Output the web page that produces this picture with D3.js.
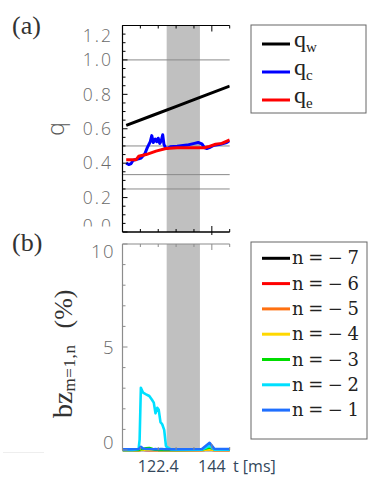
<!DOCTYPE html>
<html>
<head>
<meta charset="utf-8">
<script src="https://cdn.jsdelivr.net/npm/d3@7"></script>
<style>
  html, body { margin: 0; padding: 0; background: #fff; }
  svg { display: block; }
</style>
</head>
<body>
<svg id="chart" width="368" height="477"></svg>
<script>
// ---- data ----
const timeDomain = [108, 151.2];
const timeTicks = [108, 115.2, 122.4, 129.6, 136.8, 144, 151.2];
const timeTickLabels = ["122.4", "144"];
const shadedWindow = [125.8, 139.2];

const qRefLevels = [1.0, 0.5, 1 / 3, 0.25];
const qTickLabels = ["1.2", "1.0", "0.8", "0.6", "0.4", "0.2", "0.0"];
const qTickValues = [1.2, 1.0, 0.8, 0.6, 0.4, 0.2, 0.0];

const qwTime = [109.5, 120, 130, 140, 151.2];
const qwValue = [0.62, 0.677, 0.732, 0.787, 0.848];

const qcTime = [109.5, 110.5, 111.5, 112.2, 113, 114.5, 115.5, 117, 118, 119.2, 119.8, 120.4, 121.2, 121.8, 122.4, 123.0, 123.6, 124.2, 124.7, 125.3, 126, 127.3, 130, 134, 137, 138.5, 140, 141, 142, 143, 144.5, 147.4, 150, 151.2];
const qcValue = [0.40, 0.392, 0.398, 0.415, 0.42, 0.425, 0.43, 0.455, 0.49, 0.525, 0.56, 0.52, 0.54, 0.525, 0.545, 0.515, 0.53, 0.565, 0.51, 0.49, 0.485, 0.495, 0.498, 0.505, 0.515, 0.52, 0.512, 0.49, 0.485, 0.49, 0.502, 0.51, 0.52, 0.53];

const qeTime = [109.5, 113.5, 114.5, 117.5, 121.5, 125.5, 130, 135, 139, 141, 142.5, 145.5, 148, 151.2];
const qeValue = [0.42, 0.42, 0.44, 0.45, 0.47, 0.485, 0.49, 0.49, 0.49, 0.49, 0.495, 0.51, 0.515, 0.535];

const bzTicks = [0, 5, 10];
const bzTime = [108, 112, 114.5, 114.9, 115.4, 116.3, 117.5, 118.8, 119.8, 120.6, 121.3, 122.0, 122.6, 123.3, 124.0, 124.8, 125.5, 126.5, 127.5, 130, 140, 143.1, 145, 151.2];
const bzN7 = [0, 0, 0, 0, 0.01, 0, 0, 0, 0, 0, 0, 0, 0, 0, 0, 0, 0, 0, 0, 0, 0, 0.02, 0, 0];
const bzN6 = [0, 0, 0, 0, 0.01, 0.01, 0, 0, 0, 0, 0, 0, 0, 0, 0, 0, 0, 0, 0, 0, 0, 0.03, 0, 0];
const bzN5 = [0, 0, 0, 0, 0.02, 0.01, 0.01, 0, 0, 0, 0, 0, 0, 0, 0, 0, 0, 0, 0, 0, 0, 0.03, 0, 0];
const bzN4 = [0, 0, 0, 0, 0.02, 0.02, 0.01, 0.01, 0, 0, 0, 0, 0, 0, 0, 0, 0, 0, 0, 0, 0, 0.04, 0, 0];
const bzN3 = [0, 0, 0, 0.02, 0.05, 0.05, 0.08, 0.1, 0.06, 0.03, 0.02, 0.02, 0, 0, 0, 0, 0, 0, 0, 0, 0.02, 0.12, 0.04, 0.02];
const bzN2 = [0, 0, 0.05, 0.5, 3.02, 2.78, 2.7, 2.62, 2.45, 2.3, 1.78, 2.05, 1.95, 1.35, 1.25, 0.98, 0.2, 0.1, 0.03, 0.02, 0.02, 0.2, 0.02, 0.02];
const bzN1 = [0.03, 0.04, 0.05, 0.08, 0.15, 0.07, 0.05, 0.05, 0.04, 0.04, 0.05, 0.04, 0.04, 0.05, 0.05, 0.04, 0.05, 0.04, 0.04, 0.04, 0.05, 0.35, 0.06, 0.05];

const qSeriesNames = ["w", "c", "e"];
const nSeriesNames = ["n=\u22127", "n=\u22126", "n=\u22125", "n=\u22124", "n=\u22123", "n=\u22122", "n=\u22121"];

// ---- layout ----
const svg = d3.select("#chart");
const serif = "'Liberation Serif', 'DejaVu Serif', serif";
const wideSerif = "'DejaVu Serif', 'Liberation Serif', serif";
const tickFont = "'Open Sans', 'Lato', sans-serif";

const x = d3.scaleLinear().domain(timeDomain).range([122.5, 229.7]);
const yA = d3.scaleLinear().domain([0, 1.2]).range([232, 25.5]);
const yB = d3.scaleLinear().domain([0, 10]).range([450, 244]);

const left = x.range()[0], right = x.range()[1];

svg.append("defs").call(d => {
  d.append("clipPath").attr("id", "clipA").append("rect")
    .attr("x", left).attr("y", yA(1.2)).attr("width", right - left).attr("height", yA(0) - yA(1.2));
  d.append("clipPath").attr("id", "clipB").append("rect")
    .attr("x", left).attr("y", yB(10)).attr("width", right - left + 1).attr("height", yB(0) - yB(10) + 2);
  d.append("clipPath").attr("id", "clipLabelsA").append("rect")
    .attr("x", 0).attr("y", 0).attr("width", 122).attr("height", 226.5);
});

// ---- shaded window ----
[[yA(1.2), yA(0)], [yB(10), yB(0)]].forEach(([y0, y1]) => {
  svg.append("rect")
    .attr("x", x(shadedWindow[0])).attr("width", x(shadedWindow[1]) - x(shadedWindow[0]))
    .attr("y", y0).attr("height", y1 - y0)
    .attr("fill", "#c0c0c0");
});

// ---- panel (a) ----
const gA = svg.append("g");
gA.selectAll("line.ref").data(qRefLevels).join("line")
  .attr("x1", left).attr("x2", right)
  .attr("y1", d => yA(d)).attr("y2", d => yA(d))
  .attr("stroke", "#8a8a8a").attr("stroke-width", 1);

const lineA = d3.line().x(d => x(d[0])).y(d => yA(d[1]));
const qSeries = [
  { t: qwTime, v: qwValue, color: "#000000" },
  { t: qcTime, v: qcValue, color: "#0000ff" },
  { t: qeTime, v: qeValue, color: "#ff0000" }
];
qSeries.forEach(s => {
  gA.append("path")
    .attr("clip-path", "url(#clipA)")
    .attr("d", lineA(s.t.map((t, k) => [t, s.v[k]])))
    .attr("fill", "none").attr("stroke", s.color)
    .attr("stroke-width", 3).attr("stroke-linejoin", "round");
});

// axes of panel (a): left, top, bottom
const axisA = svg.append("g").attr("stroke", "#000");
axisA.append("line").attr("x1", left).attr("x2", left).attr("y1", yA(1.2)).attr("y2", yA(0)).attr("stroke-width", 1.2);
axisA.append("line").attr("x1", left).attr("x2", right).attr("y1", yA(1.2)).attr("y2", yA(1.2)).attr("stroke-width", 1.2);
axisA.append("line").attr("x1", left).attr("x2", right).attr("y1", yA(0)).attr("y2", yA(0)).attr("stroke-width", 1.5);

const qMinor = d3.range(0, 1.2001, 0.05);
axisA.selectAll("line.qt").data(qMinor).join("line")
  .attr("x1", left).attr("x2", d => left + (Math.abs(d / 0.2 - Math.round(d / 0.2)) < 1e-6 ? 5 : 3))
  .attr("y1", d => yA(d)).attr("y2", d => yA(d)).attr("stroke-width", 1);

timeTicks.forEach(t => {
  const major = t === 144;
  const len = major ? 6 : 3;
  axisA.append("line").attr("x1", x(t)).attr("x2", x(t)).attr("y1", yA(1.2)).attr("y2", yA(1.2) + len).attr("stroke-width", 1);
  axisA.append("line").attr("x1", x(t)).attr("x2", x(t))
    .attr("y1", yA(0) - len).attr("y2", yA(0) + (major ? 3 : 0)).attr("stroke-width", 1);
});

// y tick labels (a)
const labA = svg.append("g").attr("clip-path", "url(#clipLabelsA)");
qTickValues.forEach((v, i) => {
  let cy = yA(v);
  if (v === 1.2) cy = 35.8;
  if (v === 0.0) cy = 225.5;
  labA.append("text")
    .attr("x", 113).attr("y", cy).attr("dy", "0.36em")
    .attr("text-anchor", "end")
    .attr("font-family", tickFont).attr("font-weight", 300)
    .attr("font-size", 17.5).attr("letter-spacing", 2)
    .attr("fill", "#6a6a6a")
    .text(qTickLabels[i]);
});

svg.append("text")
  .attr("transform", "translate(64,129) rotate(-90)")
  .attr("text-anchor", "middle")
  .attr("font-family", tickFont).attr("font-weight", 300)
  .attr("font-size", 23).attr("fill", "#555")
  .text("q");

svg.append("text").attr("x", 12).attr("y", 34)
  .attr("font-family", serif).attr("font-size", 26).attr("fill", "#333")
  .text("(a)");

// legend (a)
const legA = svg.append("g");
legA.append("rect").attr("x", 251).attr("y", 25).attr("width", 115).attr("height", 88)
  .attr("fill", "#fff").attr("stroke", "#666").attr("stroke-width", 1);
qSeries.forEach((s, i) => {
  const ly = 44 + i * 28;
  legA.append("line").attr("x1", 262).attr("x2", 290).attr("y1", ly).attr("y2", ly)
    .attr("stroke", s.color).attr("stroke-width", 3);
  const txt = legA.append("text").attr("x", 294).attr("y", ly + 3)
    .attr("font-family", serif).attr("font-size", 24).attr("fill", "#222");
  txt.append("tspan").text("q");
  txt.append("tspan").attr("dy", 5).attr("font-size", 15).text(qSeriesNames[i]);
});

// ---- panel (b) ----
const lineB = d3.line().x(d => x(d[0])).y(d => yB(d[1]));
const nSeries = [
  { v: bzN7, color: "#000000" },
  { v: bzN6, color: "#ff0000" },
  { v: bzN5, color: "#ff7010" },
  { v: bzN4, color: "#ffd800" },
  { v: bzN3, color: "#00dd00" },
  { v: bzN2, color: "#00e0ff" },
  { v: bzN1, color: "#1f6fff" }
];
const gB = svg.append("g").attr("clip-path", "url(#clipB)");
nSeries.forEach(s => {
  gB.append("path")
    .attr("d", lineB(bzTime.map((t, k) => [t, s.v[k]])))
    .attr("fill", "none").attr("stroke", s.color)
    .attr("stroke-width", 2.6).attr("stroke-linejoin", "round");
});

const axisB = svg.append("g").attr("stroke", "#8c8c8c");
axisB.append("line").attr("x1", left).attr("x2", left).attr("y1", yB(10)).attr("y2", yB(0)).attr("stroke-width", 1.2);
axisB.append("line").attr("x1", left).attr("x2", right).attr("y1", yB(10)).attr("y2", yB(10)).attr("stroke-width", 1.2);
axisB.selectAll("line.bt").data(d3.range(0, 10.01, 1)).join("line")
  .attr("x1", left).attr("x2", d => left + (d % 5 === 0 ? 5 : 3))
  .attr("y1", d => yB(d)).attr("y2", d => yB(d)).attr("stroke-width", 1);
timeTicks.forEach(t => {
  const len = t === 144 ? 6 : 3;
  axisB.append("line").attr("x1", x(t)).attr("x2", x(t)).attr("y1", yB(10)).attr("y2", yB(10) + len).attr("stroke-width", 1);
  axisB.append("line").attr("x1", x(t)).attr("x2", x(t)).attr("y1", yB(0)).attr("y2", yB(0) - len).attr("stroke-width", 1);
});

bzTicks.forEach(v => {
  let cy = yB(v);
  if (v === 10) cy = 251.7;
  if (v === 0) cy = 442.7;
  svg.append("text")
    .attr("x", 115).attr("y", cy).attr("dy", "0.36em")
    .attr("text-anchor", "end")
    .attr("font-family", tickFont).attr("font-weight", 300)
    .attr("font-size", 18.5).attr("letter-spacing", 1.5)
    .attr("fill", "#6a6a6a")
    .text(String(v));
});

// faint rule under the left margin
svg.append("line").attr("x1", 3).attr("x2", 44).attr("y1", 452.5).attr("y2", 452.5)
  .attr("stroke", "#eeeeee").attr("stroke-width", 1);

const yTitle = svg.append("text")
  .attr("transform", "translate(72,418) rotate(-90)")
  .attr("font-family", serif).attr("font-size", 28).attr("fill", "#333");
yTitle.append("tspan").text("bz");
yTitle.append("tspan").attr("dy", 3).attr("font-size", 17).attr("letter-spacing", 0.6).text("m=1,n");
yTitle.append("tspan").attr("dy", -3).attr("dx", 16).attr("font-size", 26).attr("letter-spacing", 0).text("(%)");

svg.append("text").attr("x", 12).attr("y", 251)
  .attr("font-family", serif).attr("font-size", 26).attr("fill", "#333")
  .text("(b)");

// x tick labels + axis title
const labelColor = "#33475b";
timeTickLabels.forEach(lbl => {
  svg.append("text").attr("x", x(+lbl)).attr("y", 472)
    .attr("text-anchor", "middle")
    .attr("font-family", tickFont).attr("font-size", 16).attr("fill", labelColor)
    .text(lbl);
});
svg.append("text").attr("x", 233).attr("y", 472)
  .attr("font-family", tickFont).attr("font-size", 16).attr("fill", labelColor)
  .text("t [ms]");

// legend (b)
const legB = svg.append("g");
legB.append("rect").attr("x", 251).attr("y", 242).attr("width", 116).attr("height", 197)
  .attr("fill", "#fff").attr("stroke", "#666").attr("stroke-width", 1);
nSeries.forEach((s, i) => {
  const ly = 258.3 + i * 25.3;
  legB.append("line").attr("x1", 262).attr("x2", 290).attr("y1", ly).attr("y2", ly)
    .attr("stroke", s.color).attr("stroke-width", 3);
  legB.append("text").attr("x", 292).attr("y", ly + 6)
    .attr("font-family", wideSerif).attr("font-size", 18).attr("fill", "#222")
    .attr("textLength", 67).attr("lengthAdjust", "spacing")
    .text(nSeriesNames[i]);
});
</script>
</body>
</html>
